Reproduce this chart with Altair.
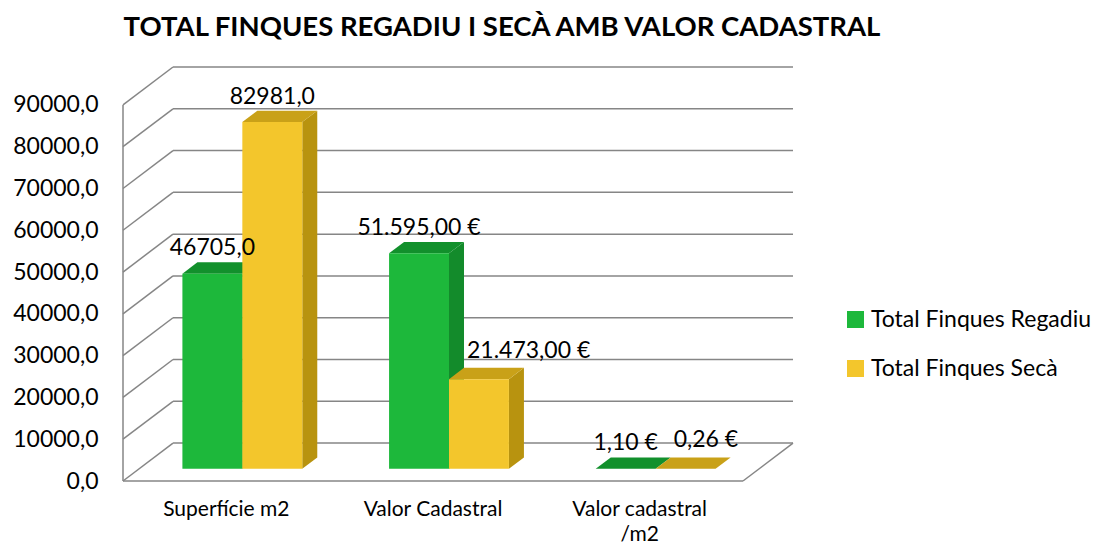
import altair as alt
import pandas as pd

# ---------------- data ----------------
categories = ["Superfície m2", "Valor Cadastral", "Valor cadastral\n/m2"]
series_names = ["Total Finques Regadiu", "Total Finques Secà"]
regadiu_values = [46705.0, 51595.0, 1.10]
seca_values = [82981.0, 21473.0, 0.26]
regadiu_labels = ["46705,0", "51.595,00 €", "1,10 €"]
seca_labels = ["82981,0", "21.473,00 €", "0,26 €"]
y_ticks = [0, 10000, 20000, 30000, 40000, 50000, 60000, 70000, 80000, 90000]
y_tick_labels = ["0,0", "10000,0", "20000,0", "30000,0", "40000,0",
                 "50000,0", "60000,0", "70000,0", "80000,0", "90000,0"]
title_text = "TOTAL FINQUES REGADIU I SECÀ AMB VALOR CADASTRAL"

# ---------------- style / 3D geometry ----------------
FONT = "Lato"
GRID = "#868686"
FRONT = ["#1DB83B", "#F3C62C"]
SIDE = ["#138B2B", "#B8930F"]
TOP = ["#12902C", "#C9A118"]
N = len(categories)
DEPTH_X = 0.242          # wall depth, in category units
DEPTH_Y = 9072.0         # wall depth, in value units
BAR_W = 0.29             # bar width, category units
F0 = 0.32                # depth fraction of bar front face
FD = 0.30                # depth fraction of bar thickness
y_top = y_ticks[-1] + DEPTH_Y

# ---------------- tables ----------------
rows = []
for i in range(N):
    for j, (vals, labs) in enumerate([(regadiu_values, regadiu_labels),
                                      (seca_values, seca_labels)]):
        rows.append({"cat": categories[i], "ci": i, "series": series_names[j],
                     "sj": j, "value": vals[i], "label": labs[i],
                     "other": regadiu_values[i], "bar": f"{i}-{j}"})
bars = pd.DataFrame(rows)
faces = bars.merge(pd.DataFrame({"t": [0, 1]}), how="cross")
grid = pd.DataFrame({"v": y_ticks})
cats = pd.DataFrame({"cat": categories, "ci": list(range(N))})

xs = alt.Scale(domain=[0, N + DEPTH_X], nice=False, zero=False)
ys = alt.Scale(domain=[0, y_top], nice=False, zero=False)
label_expr = ("[" + ",".join(f"'{l}'" for l in y_tick_labels) + "][indexof(["
              + ",".join(str(v) for v in y_ticks) + "], datum.value)]")
yaxis = alt.Axis(values=y_ticks, labelExpr=label_expr, title=None, grid=False,
                 domain=False, ticks=False, labelPadding=25, labelFont=FONT,
                 labelFontSize=23, labelColor="black")

X0 = f"datum.ci + 0.5 + (datum.sj - 1) * {BAR_W} + {F0 * DEPTH_X}"
X1 = f"{X0} + {BAR_W}"


def X(f):
    return alt.X(f, scale=xs, axis=None)


def Y(f):
    return alt.Y(f, scale=ys, axis=yaxis)


gcol = alt.value(GRID)

# walls / floor
left_wall = alt.Chart(grid).transform_calculate(
    xa="0", xb=str(DEPTH_X), yb=f"datum.v + {DEPTH_Y}"
).mark_rule(strokeWidth=1.5).encode(x=X("xa:Q"), x2="xb:Q", y=Y("v:Q"), y2="yb:Q", color=gcol)

back_wall = alt.Chart(grid).transform_calculate(
    xa=str(DEPTH_X), xb=str(N + DEPTH_X), yb=f"datum.v + {DEPTH_Y}"
).mark_rule(strokeWidth=1.5).encode(x=X("xa:Q"), x2="xb:Q", y=Y("yb:Q"), color=gcol)

floor_front = alt.Chart(grid).transform_filter("datum.v == 0").transform_calculate(
    xa="0", xb=str(N)
).mark_rule(strokeWidth=1.5).encode(x=X("xa:Q"), x2="xb:Q", y=Y("v:Q"), color=gcol)

floor_right = alt.Chart(grid).transform_filter("datum.v == 0").transform_calculate(
    xa=str(N), xb=str(N + DEPTH_X), yb=str(DEPTH_Y)
).mark_rule(strokeWidth=1.5).encode(x=X("xa:Q"), x2="xb:Q", y=Y("v:Q"), y2="yb:Q", color=gcol)

front_edge = alt.Chart(grid).transform_filter("datum.v == 0").transform_calculate(
    xa="0", yb=str(y_ticks[-1])
).mark_rule(strokeWidth=1.5).encode(x=X("xa:Q"), y=Y("v:Q"), y2="yb:Q", color=gcol)

# bars: side faces
side = alt.Chart(faces).transform_calculate(
    xs=f"{X1} + datum.t * {FD * DEPTH_X}",
    ya=f"datum.value + ({F0} + datum.t * {FD}) * {DEPTH_Y}",
    yb=f"({F0} + datum.t * {FD}) * {DEPTH_Y}",
).mark_area(orient="vertical").encode(
    x=X("xs:Q"), y=Y("ya:Q"), y2="yb:Q", detail="bar:N",
    color=alt.condition("datum.sj == 0", alt.value(SIDE[0]), alt.value(SIDE[1])),
)

# bars: top faces
top = alt.Chart(faces).transform_calculate(
    xl=f"{X0} + datum.t * {FD * DEPTH_X}",
    xr=f"{X1} + datum.t * {FD * DEPTH_X}",
    ya=f"datum.value + ({F0} + datum.t * {FD}) * {DEPTH_Y}",
).mark_area(orient="horizontal").encode(
    y=Y("ya:Q"), x=X("xl:Q"), x2="xr:Q", detail="bar:N",
    color=alt.condition("datum.sj == 0", alt.value(TOP[0]), alt.value(TOP[1])),
)

# bars: front faces (with legend)
front = alt.Chart(bars).transform_calculate(
    xa=X0, xb=X1, ya=f"{F0 * DEPTH_Y}", yb=f"datum.value + {F0 * DEPTH_Y}"
).mark_rect().encode(
    x=X("xa:Q"), x2="xb:Q", y=Y("ya:Q"), y2="yb:Q",
    color=alt.Color("series:N", scale=alt.Scale(domain=series_names, range=FRONT),
                    legend=alt.Legend(title=None, orient="none", legendX=721, legendY=241,
                                      symbolType="square", symbolSize=289,
                                      symbolStrokeWidth=0, labelFont=FONT,
                                      labelFontSize=23, labelColor="black",
                                      labelLimit=0, rowPadding=25, labelOffset=4)),
)

label_base = alt.Chart(bars).transform_calculate(
    xc=f"({X0} + {X1}) / 2",
    xl=f"{X0} + {BAR_W * 0.3}",
    ya=f"datum.value + {(F0 + FD) * DEPTH_Y}",
)
labels_c = label_base.transform_filter("!(datum.sj == 1 && datum.other > datum.value)").mark_text(
    font=FONT, fontSize=23, color="black", baseline="alphabetic", align="center", dy=-7
).encode(x=X("xc:Q"), y=Y("ya:Q"), text="label:N")
labels_l = label_base.transform_filter("datum.sj == 1 && datum.other > datum.value").mark_text(
    font=FONT, fontSize=23, color="black", baseline="alphabetic", align="left", dy=-10
).encode(x=X("xl:Q"), y=Y("ya:Q"), text="label:N")

cat_labels = alt.Chart(cats).transform_calculate(
    xc="datum.ci + 0.5", y0="0"
).mark_text(
    font=FONT, fontSize=21, color="black", baseline="top", align="center",
    lineBreak="\n", lineHeight=25, dy=18
).encode(x=X("xc:Q"), y=Y("y0:Q"), text="cat:N")

chart = alt.layer(
    left_wall, back_wall, floor_front, floor_right, front_edge,
    side, top, front, labels_c, labels_l, cat_labels
).properties(
    width=670, height=414,
    title=alt.TitleParams(text=title_text, font=FONT, fontSize=27.5, fontWeight="bold",
                          color="black", anchor="middle", frame="group", dx=44,
                          dy=34, offset=31, baseline="bottom"),
    autosize=alt.AutoSizeParams(type="none"),
    padding={"left": 115, "top": 59, "right": 308, "bottom": 63},
).configure_view(stroke=None)

chart.save("out.html", embed_options={"renderer": "svg", "actions": False})
